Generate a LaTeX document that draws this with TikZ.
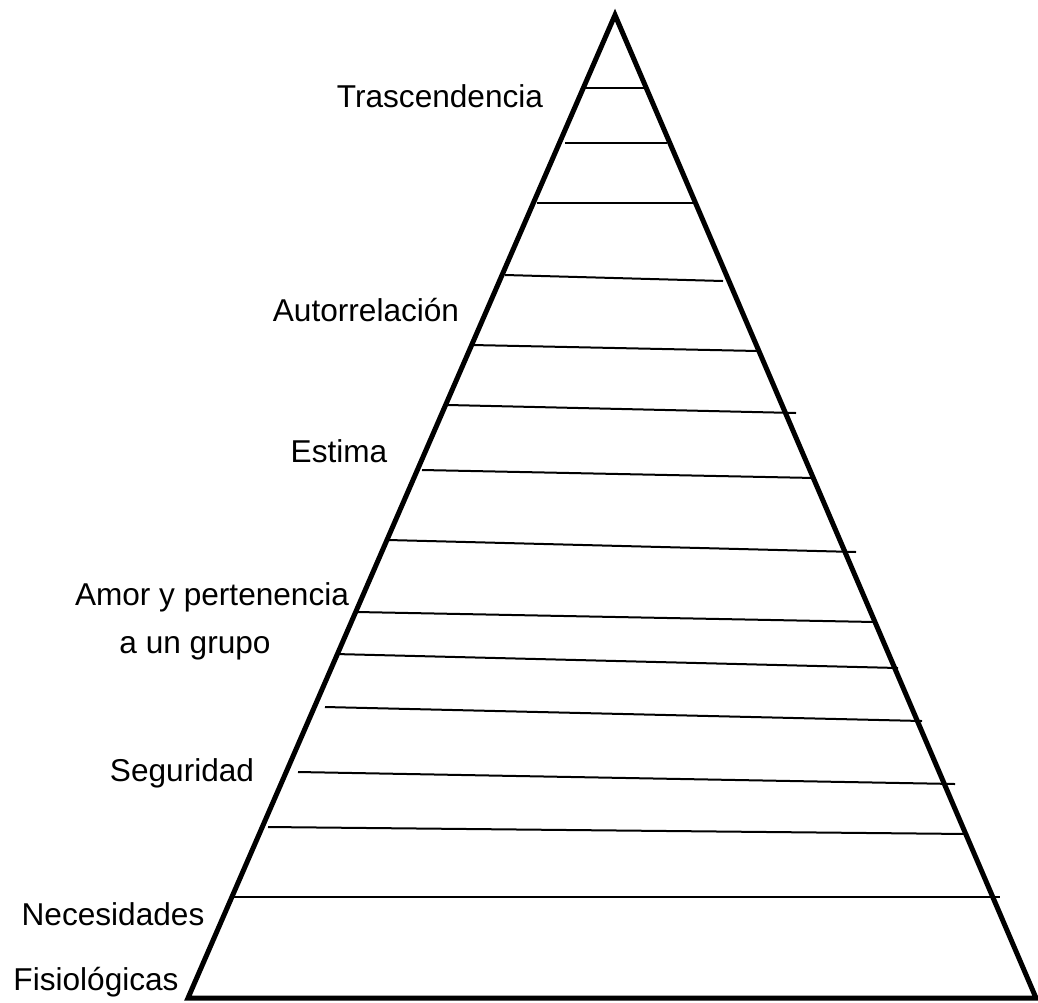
\documentclass[tikz,border=0pt]{standalone}
\usepackage{fontspec}
\setmainfont{Liberation Sans}
\usepackage{tikz}
\tikzstyle{etiqueta} = [rectangle,
inner sep=0pt,
anchor=base,
font=\fontsize{15.8}{18}\selectfont]
\tikzstyle{borde} = [line width=2.5pt, line join=miter]
\tikzstyle{nivel} = [line width=1pt]

\begin{document}
\begin{tikzpicture}[x=0.5pt, y=-0.5pt]
		\useasboundingbox (0,0) rectangle (1038,1002);
		\coordinate (cima) at (615,15);
		\coordinate (izq) at (188,998);
		\coordinate (der) at (1036,998);
		\draw [borde] (cima) -- (izq) -- (der) -- cycle;

		\draw [nivel] (585,88) -- (645,88);
		\draw [nivel] (565,143) -- (667,143);
		\draw [nivel] (537,203) -- (694,203);
		\draw [nivel] (505,275) -- (723,281);
		\draw [nivel] (472,345) -- (758,351);
		\draw [nivel] (448,405) -- (796,413);
		\draw [nivel] (422,470) -- (815,478);
		\draw [nivel] (388,540) -- (856,552);
		\draw [nivel] (357,612) -- (875,622);
		\draw [nivel] (335,654) -- (898,668);
		\draw [nivel] (325,707) -- (922,721);
		\draw [nivel] (298,772) -- (955,784);
		\draw [nivel] (268,827) -- (968,834);
		\draw [nivel] (233,897) -- (1000,897);

		\node (tras) [etiqueta] at (440,107) {Trascendencia};
		\node (auto) [etiqueta] at (366,321) {Autorrelación};
		\node (est) [etiqueta] at (339,462) {Estima};
		\node (amor) [etiqueta] at (212,605) {Amor y pertenencia};
		\node (grupo) [etiqueta] at (195,653) {a un grupo};
		\node (seg) [etiqueta] at (182,781) {Seguridad};
		\node (nec) [etiqueta] at (113,925) {Necesidades};
		\node (fis) [etiqueta] at (96,990) {Fisiológicas};
	\end{tikzpicture}
\end{document}
